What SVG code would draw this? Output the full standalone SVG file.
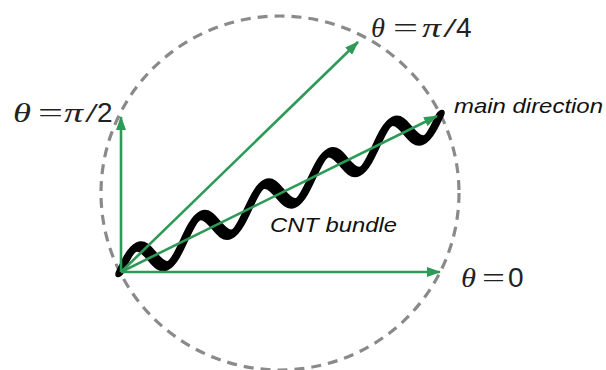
<svg xmlns="http://www.w3.org/2000/svg" width="606" height="370" viewBox="0 0 606 370">
  <defs>
    <marker id="ah" viewBox="0 0 14 10" refX="13" refY="5" markerWidth="14" markerHeight="10" markerUnits="userSpaceOnUse" orient="auto">
      <path d="M0,0 L14,5 L0,10 Z" fill="#2e9a57"/>
    </marker>
    <style>
      .circ { fill: none; stroke: #8a8a8a; stroke-width: 3.2; stroke-dasharray: 10 7; }
      .wave { fill: none; stroke: #000; stroke-width: 9.5; stroke-linecap: round; stroke-linejoin: round; }
      .arr { fill: none; stroke: #2e9a57; stroke-width: 2.6; marker-end: url(#ah); }
      .m { font-family: "Liberation Serif", "DejaVu Serif", serif; font-size: 28px; fill: #222; }
      .it { font-style: italic; }
      .d { font-family: "Liberation Sans", Arial, sans-serif; font-size: 28px; fill: #222; }
      .lbl { font-family: "Liberation Sans", Arial, sans-serif; font-style: italic; font-size: 21px; fill: #111; }
    </style>
  </defs>
  <rect width="606" height="370" fill="#fff"/>

  <g id="circle">
    <ellipse class="circ" cx="280" cy="193" rx="179" ry="177"/>
  </g>

  <g id="cnt-bundle">
    <path class="wave" transform="matrix(1,-0.4906,0,1,120,272)"
      d="M0,0 C5.22,-8.71 10.21,-17 16,-17 C21.79,-17 26.78,-8.71 32,0 C37.22,8.71 42.21,17 48,17 C53.79,17 58.78,8.71 64,0 C69.22,-8.71 74.21,-17 80,-17 C85.79,-17 90.78,-8.71 96,0 C101.22,8.71 106.21,17 112,17 C117.79,17 122.78,8.71 128,0 C133.22,-8.71 138.21,-17 144,-17 C149.79,-17 154.78,-8.71 160,0 C165.22,8.71 170.21,17 176,17 C181.79,17 186.78,8.71 192,0 C197.22,-8.71 202.21,-17 208,-17 C213.79,-17 218.78,-8.71 224,0 C229.22,8.71 234.21,17 240,17 C245.79,17 250.78,8.71 256,0 C261.22,-8.71 266.21,-17 272,-17 C277.79,-17 282.78,-8.71 288,0 C293.22,8.71 298.21,17 304,17 C309.79,17 314.78,8.71 320,0"/>
    <text class="lbl" x="270" y="232" textLength="127" lengthAdjust="spacingAndGlyphs">CNT bundle</text>
  </g>

  <g id="connectors">
    <line class="arr" x1="121" y1="272" x2="440" y2="272"/>
    <line class="arr" x1="121" y1="272" x2="121" y2="117"/>
    <line class="arr" x1="121" y1="272" x2="358" y2="42"/>
    <line class="arr" x1="121" y1="272" x2="437" y2="116"/>
  </g>

  <g id="label-theta0">
    <text class="m it" x="461" y="287" textLength="15" lengthAdjust="spacingAndGlyphs">θ</text>
    <text class="m" x="482" y="287" textLength="23" lengthAdjust="spacingAndGlyphs">=</text>
    <text class="d" x="508" y="287">0</text>
  </g>
  <g id="label-theta-pi2">
    <text class="m it" x="13" y="122" textLength="18" lengthAdjust="spacingAndGlyphs">θ</text>
    <text class="m" x="38" y="122" textLength="25" lengthAdjust="spacingAndGlyphs">=</text>
    <text class="m it" x="64" y="122" textLength="19" lengthAdjust="spacingAndGlyphs">π</text>
    <text class="m" x="85" y="122" textLength="13" lengthAdjust="spacingAndGlyphs">/</text>
    <text class="d" x="97" y="122">2</text>
  </g>
  <g id="label-theta-pi4">
    <text class="m it" x="371" y="37" textLength="14" lengthAdjust="spacingAndGlyphs">θ</text>
    <text class="m" x="393" y="37" textLength="25" lengthAdjust="spacingAndGlyphs">=</text>
    <text class="m it" x="422" y="37" textLength="19" lengthAdjust="spacingAndGlyphs">π</text>
    <text class="m" x="443" y="37" textLength="14" lengthAdjust="spacingAndGlyphs">/</text>
    <text class="d" x="456" y="37">4</text>
  </g>
  <g id="label-main">
    <text class="lbl" x="454" y="113" textLength="149" lengthAdjust="spacingAndGlyphs">main direction</text>
  </g>
</svg>
